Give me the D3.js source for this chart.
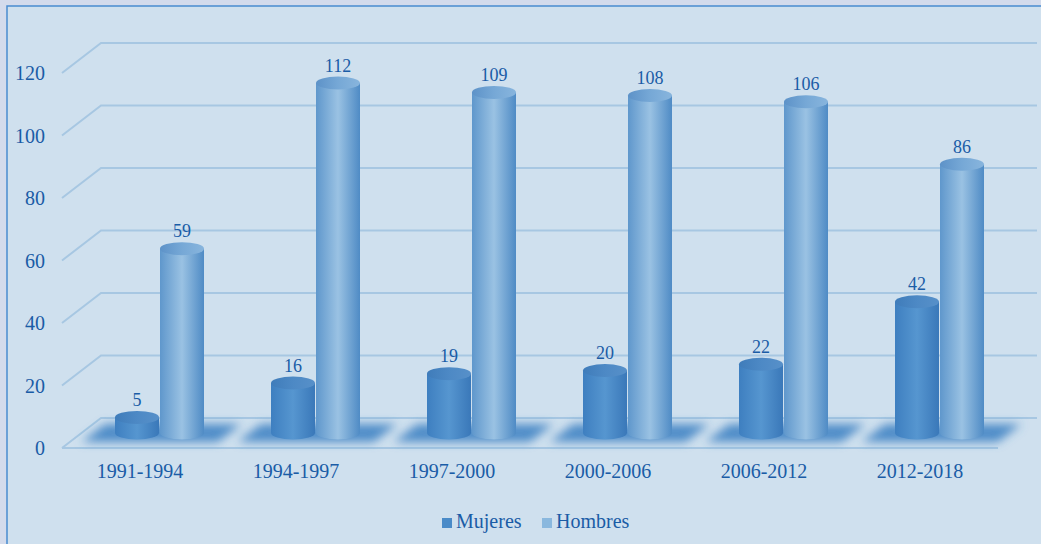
<!DOCTYPE html>
<html>
<head>
<meta charset="utf-8">
<script src="https://cdn.jsdelivr.net/npm/d3@7"></script>
<style>
  body { margin: 0; background: #d3dbec; }
  text { font-family: "Liberation Serif", "Times New Roman", serif; fill: #1a5ca6; }
</style>
</head>
<body>
<div id="viz"></div>
<script>
var categories = ['1991-1994', '1994-1997', '1997-2000', '2000-2006', '2006-2012', '2012-2018'];
var series = ['Mujeres', 'Hombres'];
var mujeres = [5, 16, 19, 20, 22, 42];
var hombres = [59, 112, 109, 108, 106, 86];
var yTicks = [0, 20, 40, 60, 80, 100, 120];

var W = 1041, H = 544;
var front = { left: 62, right: 998, floor: 448 },
    dx = 39, dy = -30,   // depth offset of back wall
    plotH = 375;

var svg = d3.select('#viz').append('svg')
  .attr('width', W).attr('height', H);

var defs = svg.append('defs');

function cylGrad(id, left, mid, right) {
  var g = defs.append('linearGradient').attr('id', id)
    .attr('x1', '0%').attr('x2', '100%');
  g.append('stop').attr('offset', '0%').attr('stop-color', left);
  g.append('stop').attr('offset', '50%').attr('stop-color', mid);
  g.append('stop').attr('offset', '100%').attr('stop-color', right);
}
cylGrad('gM', '#3e7fc0', '#5696d0', '#3a78b9');
cylGrad('gH', '#5f97cc', '#9ac2e3', '#4f8bc5');
cylGrad('gMt', '#3f7cba', '#4d89c5', '#5790c9');
cylGrad('gHt', '#5d92c8', '#76a8d6', '#88b5dd');

defs.append('filter').attr('id', 'blur')
  .attr('x', '-30%').attr('y', '-100%').attr('width', '160%').attr('height', '300%')
  .append('feGaussianBlur').attr('stdDeviation', 5);

// chart frame
svg.append('rect')
  .attr('x', 7).attr('y', 6).attr('width', W).attr('height', H)
  .attr('fill', '#cfe0ee').attr('stroke', '#4a8ccf').attr('stroke-width', 1.5);

var y = d3.scaleLinear().domain([0, 120]).range([0, plotH]);
var x = d3.scaleBand().domain(categories).range([front.left, front.right]);
var xs = d3.scaleBand().domain(series).range([-45, 45]);
var colors = d3.scaleOrdinal().domain(series).range(['#4a8bc8', '#8ab8de']);

// grid: front diagonal + back wall line
var grid = svg.append('g');
yTicks.forEach(function(t) {
  var yb = front.floor + dy - y(t), yf = front.floor - y(t);
  grid.append('path')
    .attr('d', 'M' + front.left + ',' + yf + 'L' + (front.left + dx) + ',' + yb +
      'L' + (front.right + dx) + ',' + yb)
    .attr('fill', 'none').attr('stroke', '#a7c7e2').attr('stroke-width', 2);
});
grid.append('line')
  .attr('x1', front.left).attr('x2', front.right)
  .attr('y1', front.floor).attr('y2', front.floor)
  .attr('stroke', '#a7c7e2').attr('stroke-width', 2);

// y labels
svg.append('g').selectAll('text').data(yTicks).enter().append('text')
  .attr('x', 45).attr('y', function(d) { return front.floor - y(d); })
  .attr('dy', '0.35em').attr('text-anchor', 'end')
  .style('font-size', '20px').text(function(d) { return d; });

// floor shadows
var shadows = svg.append('g').attr('filter', 'url(#blur)');
categories.forEach(function(c) {
  var x0 = x(c), bw = x.bandwidth();
  var t0 = 0.2, t1 = 0.8;
  var pts = [
    [x0 + 12 + t0 * dx, front.floor + t0 * dy],
    [x0 + bw - 8 + t0 * dx, front.floor + t0 * dy],
    [x0 + bw - 8 + t1 * dx, front.floor + t1 * dy],
    [x0 + 12 + t1 * dx, front.floor + t1 * dy]
  ];
  shadows.append('polygon')
    .attr('points', pts.map(function(p) { return p.join(','); }).join(' '))
    .attr('fill', '#3b7fc2').attr('opacity', 0.85);
});

// cylinders
var rx = 22, ry = 6.5;
var floorMid = front.floor + dy / 2;
var bars = svg.append('g');
var labels = svg.append('g');
categories.forEach(function(c, i) {
  [mujeres[i], hombres[i]].forEach(function(v, j) {
    var s = series[j];
    var cx = x(c) + x.bandwidth() / 2 + dx / 2 + xs(s) + xs.bandwidth() / 2;
    var top = floorMid - y(v);
    var g = bars.append('g');
    g.append('path')
      .attr('d', 'M' + (cx - rx) + ',' + top +
        'L' + (cx - rx) + ',' + floorMid +
        'A' + rx + ',' + ry + ' 0 0 0 ' + (cx + rx) + ',' + floorMid +
        'L' + (cx + rx) + ',' + top + 'Z')
      .attr('fill', j === 0 ? 'url(#gM)' : 'url(#gH)');
    g.append('ellipse')
      .attr('cx', cx).attr('cy', top).attr('rx', rx).attr('ry', ry)
      .attr('fill', j === 0 ? 'url(#gMt)' : 'url(#gHt)');
    labels.append('text')
      .attr('x', cx).attr('y', top - ry - 5)
      .attr('text-anchor', 'middle')
      .style('font-size', '18px').text(v);
  });
});

// category labels
svg.append('g').selectAll('text').data(categories).enter().append('text')
  .attr('x', function(d) { return x(d) + x.bandwidth() / 2; })
  .attr('y', 478).attr('text-anchor', 'middle')
  .style('font-size', '20px').text(function(d) { return d; });

// legend
var legend = svg.append('g');
var lx = [442, 542];
series.forEach(function(s, i) {
  legend.append('rect').attr('x', lx[i]).attr('y', 518)
    .attr('width', 10).attr('height', 10).attr('fill', colors(s));
  legend.append('text').attr('x', lx[i] + 14).attr('y', 528)
    .style('font-size', '20px').text(s);
});
</script>
</body>
</html>
